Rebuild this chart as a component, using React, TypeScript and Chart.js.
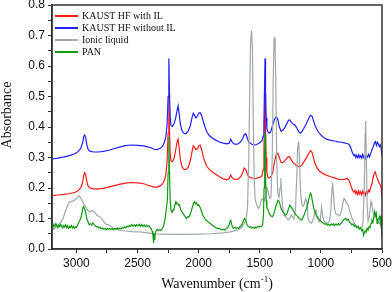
import { useEffect, useRef } from "react";
import { Chart, registerables } from "chart.js";

Chart.register(...registerables);

// ---- Data (wavenumber in cm^-1, absorbance) ----
const seriesLabels = ["KAUST HF with IL", "KAUST HF without IL", "Ionic liquid", "PAN"];
const seriesColors = ["#ff1a1a", "#1f1fff", "#9fa9a9", "#129a12"];

// all tick positions (major + minor); only majors get labels
const xTicks = [500, 750, 1000, 1250, 1500, 1750, 2000, 2250, 2500, 2750, 3000];
const xLabelled = [500, 1000, 1500, 2000, 2500, 3000];
const yTicks = [0, 0.05, 0.1, 0.15, 0.2, 0.25, 0.3, 0.35, 0.4, 0.45, 0.5, 0.55, 0.6, 0.65, 0.7, 0.75, 0.8];
const yLabelled = ["0.0", "0.1", "0.2", "0.3", "0.4", "0.5", "0.6", "0.7", "0.8"];

const blueWn = [3200,3150,3100,3050,3010,2985,2965,2950,2940,2933,2925,2915,2905,2890,2860,2820,2780,2740,2700,2650,2600,2550,2500,2450,2420,2390,2365,2340,2315,2295,2280,2268,2258,2250,2244,2239,2233,2226,2215,2200,2188,2176,2168,2160,2150,2138,2125,2105,2085,2068,2055,2044,2034,2022,2010,1998,1988,1975,1962,1948,1935,1915,1890,1860,1830,1800,1770,1750,1738,1728,1712,1695,1675,1655,1640,1628,1615,1605,1592,1575,1555,1535,1515,1495,1482,1472,1466,1461,1457,1453,1448,1442,1432,1420,1408,1395,1380,1365,1352,1340,1325,1310,1295,1280,1265,1255,1242,1228,1212,1195,1180,1168,1155,1140,1120,1100,1085,1072,1060,1048,1030,1010,985,955,920,890,860,830,800,785,770,758,748,738,730,722,714,706,698,690,682,674,666,658,650,642,634,626,618,610,602,594,586,578,570,562,554,546,538,530,522,514,507,500];
const blueAbs = [0.295,0.298,0.302,0.307,0.313,0.32,0.33,0.348,0.37,0.374,0.366,0.343,0.327,0.321,0.318,0.318,0.32,0.323,0.328,0.334,0.339,0.341,0.34,0.338,0.335,0.332,0.327,0.326,0.33,0.337,0.35,0.37,0.41,0.5,0.625,0.52,0.43,0.405,0.402,0.412,0.43,0.455,0.469,0.445,0.41,0.39,0.38,0.378,0.387,0.405,0.43,0.445,0.438,0.43,0.436,0.446,0.447,0.437,0.418,0.4,0.385,0.373,0.364,0.357,0.351,0.347,0.345,0.347,0.36,0.352,0.345,0.343,0.345,0.352,0.362,0.374,0.378,0.367,0.352,0.346,0.342,0.341,0.345,0.35,0.355,0.37,0.42,0.53,0.625,0.52,0.43,0.395,0.383,0.38,0.387,0.405,0.425,0.434,0.425,0.4,0.386,0.39,0.398,0.41,0.422,0.423,0.415,0.41,0.407,0.395,0.384,0.38,0.385,0.395,0.41,0.428,0.439,0.435,0.42,0.405,0.39,0.378,0.368,0.36,0.356,0.354,0.351,0.35,0.347,0.346,0.343,0.335,0.322,0.312,0.306,0.31,0.3,0.307,0.299,0.309,0.3,0.306,0.298,0.31,0.3,0.305,0.296,0.306,0.301,0.31,0.302,0.312,0.32,0.33,0.337,0.348,0.352,0.34,0.35,0.344,0.336,0.342,0.33,0.305];

const redWn = [3200,3150,3100,3050,3010,2985,2965,2950,2940,2933,2925,2915,2905,2890,2860,2820,2780,2740,2700,2650,2600,2550,2500,2450,2420,2390,2365,2340,2315,2295,2280,2268,2258,2250,2244,2239,2233,2226,2215,2200,2188,2176,2168,2160,2150,2138,2125,2105,2085,2068,2055,2044,2034,2022,2010,1998,1988,1975,1962,1948,1935,1915,1890,1860,1830,1800,1770,1750,1738,1728,1712,1695,1675,1655,1640,1628,1615,1605,1592,1575,1555,1535,1515,1495,1482,1472,1466,1461,1457,1453,1448,1442,1432,1420,1408,1395,1380,1365,1352,1340,1325,1310,1295,1280,1265,1255,1242,1228,1212,1195,1180,1168,1155,1140,1120,1100,1085,1072,1060,1048,1030,1010,985,955,920,890,860,830,800,785,770,758,748,738,730,722,714,706,698,690,682,674,666,658,650,642,634,626,618,610,602,594,586,578,570,562,554,546,538,530,522,514,507,500];
const redAbs = [0.175,0.177,0.179,0.182,0.186,0.192,0.2,0.218,0.242,0.25,0.243,0.222,0.207,0.2,0.197,0.197,0.199,0.203,0.207,0.212,0.216,0.218,0.217,0.214,0.21,0.206,0.203,0.203,0.207,0.214,0.225,0.245,0.29,0.38,0.505,0.4,0.31,0.288,0.286,0.298,0.325,0.352,0.36,0.335,0.295,0.272,0.262,0.26,0.268,0.29,0.318,0.338,0.333,0.325,0.33,0.339,0.341,0.325,0.302,0.285,0.272,0.262,0.253,0.245,0.237,0.23,0.227,0.231,0.243,0.235,0.229,0.228,0.23,0.238,0.25,0.265,0.26,0.248,0.238,0.234,0.232,0.231,0.233,0.236,0.24,0.26,0.33,0.43,0.51,0.4,0.3,0.25,0.234,0.233,0.238,0.25,0.285,0.31,0.314,0.3,0.283,0.284,0.29,0.297,0.303,0.302,0.292,0.283,0.278,0.272,0.27,0.271,0.276,0.285,0.298,0.313,0.322,0.317,0.298,0.28,0.265,0.255,0.248,0.242,0.237,0.233,0.229,0.227,0.229,0.232,0.225,0.212,0.2,0.19,0.186,0.192,0.181,0.189,0.179,0.19,0.181,0.188,0.178,0.19,0.18,0.187,0.177,0.189,0.182,0.193,0.188,0.2,0.208,0.222,0.238,0.25,0.253,0.238,0.232,0.222,0.215,0.21,0.2,0.168];

const grayWn = [3200,3180,3160,3140,3125,3110,3095,3080,3065,3050,3030,3010,2995,2980,2968,2955,2940,2925,2910,2895,2880,2865,2850,2830,2810,2790,2770,2755,2742,2725,2700,2660,2600,2540,2480,2420,2360,2300,2200,2100,2000,1900,1800,1740,1700,1670,1645,1625,1610,1600,1590,1582,1575,1567,1560,1553,1545,1537,1525,1512,1500,1488,1475,1462,1450,1440,1430,1418,1408,1398,1390,1383,1376,1369,1362,1352,1342,1334,1328,1321,1312,1300,1285,1270,1255,1242,1232,1220,1208,1198,1190,1182,1175,1168,1158,1148,1138,1125,1115,1105,1090,1076,1060,1048,1040,1030,1020,1008,1000,994,986,975,960,945,930,918,910,904,897,888,877,860,845,830,818,810,800,790,776,760,745,735,720,708,690,675,665,655,645,638,634,628,622,614,606,598,590,582,570,556,544,530,517,508,500];
const grayAbs = [0.062,0.066,0.075,0.083,0.09,0.1,0.117,0.135,0.15,0.155,0.157,0.162,0.167,0.174,0.17,0.16,0.148,0.138,0.128,0.122,0.124,0.126,0.12,0.11,0.106,0.098,0.086,0.08,0.08,0.076,0.069,0.063,0.059,0.057,0.056,0.053,0.05,0.049,0.048,0.048,0.049,0.05,0.053,0.056,0.06,0.064,0.072,0.085,0.1,0.14,0.3,0.52,0.68,0.716,0.66,0.42,0.22,0.16,0.145,0.133,0.14,0.16,0.165,0.16,0.175,0.2,0.185,0.165,0.17,0.3,0.55,0.69,0.696,0.55,0.3,0.18,0.17,0.2,0.232,0.18,0.135,0.11,0.105,0.096,0.1,0.112,0.105,0.098,0.13,0.23,0.33,0.352,0.3,0.2,0.15,0.14,0.145,0.165,0.155,0.1,0.088,0.085,0.1,0.125,0.128,0.105,0.093,0.088,0.115,0.139,0.11,0.092,0.087,0.084,0.09,0.13,0.19,0.218,0.18,0.13,0.115,0.112,0.11,0.125,0.155,0.166,0.16,0.15,0.143,0.12,0.1,0.093,0.078,0.071,0.069,0.068,0.07,0.09,0.2,0.38,0.42,0.3,0.15,0.09,0.1,0.13,0.155,0.14,0.115,0.105,0.1,0.09,0.082,0.07,0.057];

const greenWn = [3200,3192,3184,3176,3168,3160,3152,3144,3136,3128,3120,3112,3104,3096,3088,3080,3072,3064,3056,3048,3040,3032,3024,3016,3008,3000,2992,2984,2975,2965,2955,2947,2940,2932,2924,2916,2906,2896,2886,2876,2866,2856,2846,2836,2826,2816,2806,2796,2786,2776,2766,2756,2746,2736,2726,2716,2706,2696,2686,2676,2666,2656,2646,2636,2626,2616,2606,2596,2586,2576,2566,2556,2546,2536,2526,2516,2506,2496,2486,2476,2466,2456,2446,2436,2426,2416,2406,2396,2388,2380,2374,2369,2364,2359,2354,2348,2340,2330,2320,2310,2300,2290,2282,2274,2266,2256,2250,2244,2239,2233,2226,2218,2210,2202,2194,2186,2180,2172,2164,2156,2148,2140,2130,2120,2110,2100,2090,2080,2070,2060,2050,2042,2034,2026,2018,2010,2000,1990,1980,1970,1960,1950,1940,1930,1920,1910,1900,1890,1880,1870,1860,1850,1840,1830,1820,1810,1800,1790,1780,1770,1760,1750,1742,1737,1730,1722,1712,1702,1692,1682,1672,1662,1652,1642,1632,1625,1615,1605,1595,1585,1575,1565,1555,1545,1535,1525,1515,1505,1495,1485,1476,1470,1465,1460,1457,1453,1448,1442,1432,1420,1408,1395,1385,1372,1360,1350,1340,1328,1315,1302,1290,1278,1266,1255,1246,1236,1226,1214,1202,1190,1178,1166,1156,1146,1136,1126,1116,1106,1096,1086,1078,1070,1062,1054,1046,1036,1026,1016,1006,996,986,976,966,956,946,936,926,916,906,896,886,876,866,856,846,836,826,816,806,796,786,776,766,756,746,736,726,716,706,696,686,676,666,658,650,645,638,630,622,614,606,598,590,582,574,566,560,554,547,540,534,527,520,514,508,504,500];
const greenAbs = [0.078,0.072,0.081,0.074,0.083,0.076,0.07,0.079,0.073,0.081,0.074,0.069,0.077,0.072,0.079,0.07,0.076,0.068,0.074,0.07,0.077,0.069,0.074,0.068,0.073,0.071,0.078,0.085,0.092,0.1,0.118,0.135,0.139,0.13,0.118,0.1,0.09,0.08,0.083,0.079,0.086,0.08,0.076,0.072,0.074,0.069,0.071,0.066,0.069,0.065,0.068,0.063,0.067,0.064,0.068,0.064,0.067,0.063,0.068,0.065,0.069,0.065,0.068,0.066,0.07,0.068,0.072,0.07,0.075,0.072,0.077,0.074,0.08,0.075,0.079,0.074,0.08,0.076,0.081,0.075,0.08,0.074,0.079,0.073,0.078,0.074,0.076,0.07,0.066,0.058,0.045,0.02,0.05,0.03,0.055,0.06,0.064,0.06,0.063,0.061,0.066,0.072,0.085,0.1,0.128,0.16,0.25,0.368,0.26,0.16,0.125,0.12,0.128,0.132,0.145,0.155,0.148,0.15,0.143,0.145,0.13,0.124,0.118,0.112,0.105,0.1,0.106,0.104,0.112,0.125,0.14,0.15,0.155,0.148,0.152,0.143,0.145,0.138,0.128,0.115,0.106,0.1,0.094,0.092,0.088,0.085,0.082,0.079,0.075,0.073,0.07,0.068,0.066,0.068,0.064,0.063,0.065,0.062,0.065,0.068,0.072,0.08,0.092,0.095,0.08,0.072,0.068,0.071,0.067,0.07,0.068,0.073,0.077,0.083,0.095,0.1,0.094,0.08,0.074,0.071,0.073,0.069,0.071,0.068,0.072,0.07,0.074,0.072,0.075,0.073,0.082,0.11,0.2,0.33,0.38,0.25,0.16,0.135,0.128,0.115,0.108,0.106,0.115,0.135,0.15,0.16,0.155,0.135,0.124,0.118,0.111,0.115,0.13,0.144,0.138,0.134,0.126,0.118,0.111,0.106,0.1,0.097,0.095,0.104,0.112,0.125,0.133,0.15,0.168,0.183,0.178,0.158,0.14,0.128,0.12,0.108,0.103,0.098,0.094,0.09,0.086,0.084,0.081,0.083,0.078,0.081,0.077,0.082,0.078,0.083,0.077,0.082,0.078,0.083,0.079,0.085,0.088,0.094,0.098,0.1,0.094,0.098,0.088,0.085,0.079,0.082,0.074,0.078,0.07,0.075,0.065,0.07,0.06,0.064,0.045,0.052,0.06,0.055,0.068,0.062,0.074,0.07,0.085,0.095,0.088,0.105,0.122,0.11,0.118,0.084,0.095,0.1,0.106,0.09,0.11,0.07,0.035];

const toPoints = (wn: number[], ab: number[]) => wn.map((x, i) => ({ x, y: ab[i] }));

const SERIF = "'Liberation Serif', 'Times New Roman', serif";
const SANS = "'Liberation Sans', Arial, sans-serif";

const decorPlugin = {
  id: "decor",
  afterDraw(chart: any) {
    const { ctx, chartArea: a } = chart;
    ctx.save();
    // frame
    ctx.strokeStyle = "#333";
    ctx.lineWidth = 1.5;
    ctx.strokeRect(a.left, a.top, a.right - a.left, a.bottom - a.top);

    // legend
    ctx.font = `10px ${SERIF}`;
    ctx.textBaseline = "middle";
    ctx.textAlign = "left";
    seriesLabels.forEach((label, i) => {
      const y = a.top + 11 + i * 12;
      ctx.strokeStyle = seriesColors[i];
      ctx.lineWidth = 2;
      ctx.beginPath();
      ctx.moveTo(a.left + 3, y);
      ctx.lineTo(a.left + 26, y);
      ctx.stroke();
      ctx.fillStyle = "#111";
      ctx.fillText(label, a.left + 30, y);
    });

    // y title
    ctx.save();
    ctx.font = `14px ${SERIF}`;
    ctx.fillStyle = "#111";
    ctx.textAlign = "center";
    ctx.textBaseline = "alphabetic";
    ctx.translate(11, 115);
    ctx.rotate(-Math.PI / 2);
    ctx.fillText("Absorbance", 0, 0);
    ctx.restore();

    // x title with superscript
    const main = "Wavenumber (cm";
    const sup = "-1";
    const close = ")";
    ctx.font = `14px ${SERIF}`;
    const w1 = ctx.measureText(main).width;
    const w3 = ctx.measureText(close).width;
    ctx.font = `9px ${SERIF}`;
    const w2 = ctx.measureText(sup).width;
    const total = w1 + w2 + w3;
    const cx = (a.left + a.right) / 2;
    let x = cx - total / 2;
    const base = 288;
    ctx.textAlign = "left";
    ctx.textBaseline = "alphabetic";
    ctx.fillStyle = "#111";
    ctx.font = `14px ${SERIF}`;
    ctx.fillText(main, x, base);
    x += w1;
    ctx.font = `9px ${SERIF}`;
    ctx.fillText(sup, x, base - 6);
    x += w2;
    ctx.font = `14px ${SERIF}`;
    ctx.fillText(close, x, base);
    ctx.restore();
  },
};

export default function App() {
  const ref = useRef<HTMLCanvasElement>(null);
  useEffect(() => {
    if (!ref.current) return;
    const tickFont = { family: SANS, size: 12 };
    const chart = new Chart(ref.current, {
      type: "line",
      data: {
        datasets: [
          { label: seriesLabels[0], data: toPoints(redWn, redAbs), borderColor: seriesColors[0], order: 4 },
          { label: seriesLabels[1], data: toPoints(blueWn, blueAbs), borderColor: seriesColors[1], order: 3 },
          { label: seriesLabels[2], data: toPoints(grayWn, grayAbs), borderColor: seriesColors[2], order: 2 },
          { label: seriesLabels[3], data: toPoints(greenWn, greenAbs), borderColor: seriesColors[3], order: 1 },
        ],
      },
      options: {
        animation: false,
        responsive: false,
        devicePixelRatio: 1,
        layout: { padding: { left: 0, top: 5, right: 10, bottom: 0 } },
        plugins: { legend: { display: false }, tooltip: { enabled: false } },
        elements: {
          point: { radius: 0 },
          line: { borderWidth: 1.2, tension: 0, fill: false },
        },
        scales: {
          x: {
            type: "linear",
            reverse: true,
            min: 500,
            max: 3200,
            afterBuildTicks: (s: any) => {
              s.ticks = xTicks.map((v) => ({ value: v }));
            },
            ticks: {
              autoSkip: false,
              maxRotation: 0,
              padding: 3,
              color: "#111",
              font: tickFont,
              callback: (v: any) => {
                const n = Math.round(Number(v));
                return xLabelled.includes(n) ? String(n) : "";
              },
            },
            grid: { drawOnChartArea: false, drawTicks: true, tickLength: 4, tickColor: "#333", tickWidth: 1 },
            border: { display: true, color: "#333", width: 1.5 },
            afterFit: (s: any) => {
              s.height = 43;
              s.paddingLeft = 0;
              s.paddingRight = 0;
            },
          },
          y: {
            type: "linear",
            min: 0,
            max: 0.8,
            afterBuildTicks: (s: any) => {
              s.ticks = yTicks.map((v) => ({ value: v }));
            },
            ticks: {
              autoSkip: false,
              padding: 3,
              color: "#111",
              font: tickFont,
              callback: (v: any) => {
                const r = Math.round(Number(v) * 100);
                return r % 10 === 0 ? yLabelled[r / 10] : "";
              },
            },
            grid: { drawOnChartArea: false, drawTicks: true, tickLength: 4, tickColor: "#333", tickWidth: 1 },
            border: { display: true, color: "#333", width: 1.5 },
            afterFit: (s: any) => {
              s.width = 52;
              s.paddingTop = 0;
              s.paddingBottom = 0;
            },
          },
        },
      },
      plugins: [decorPlugin],
    });
    return () => chart.destroy();
  }, []);

  return (
    <div style={{ position: "absolute", left: 0, top: 0, width: 392, height: 292, background: "#fff" }}>
      <canvas ref={ref} width={392} height={292} style={{ width: 392, height: 292, display: "block" }} />
    </div>
  );
}
